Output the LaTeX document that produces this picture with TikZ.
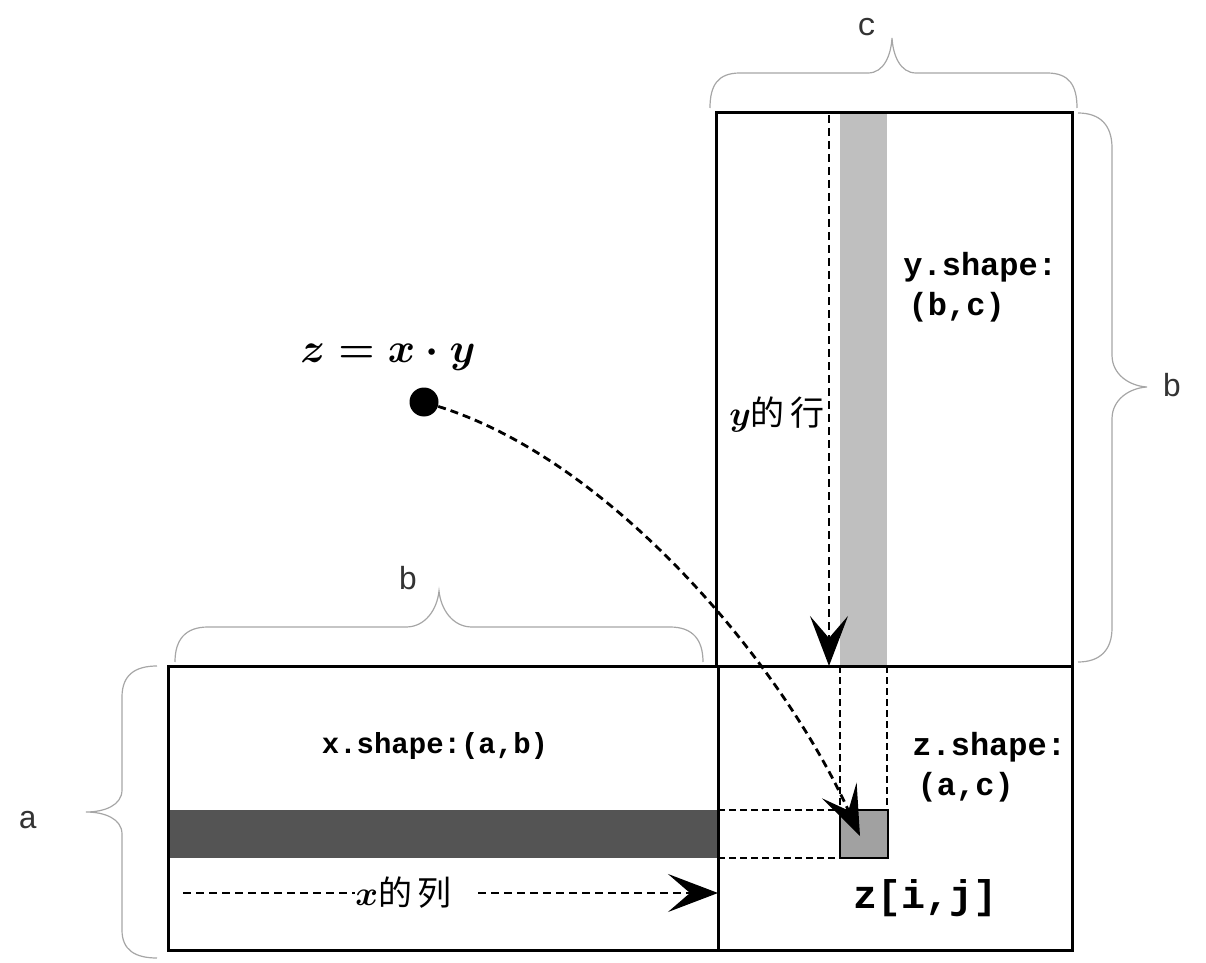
\documentclass[tikz,border=0pt]{standalone}
\usepackage{fontspec}
\newfontfamily\codefont{Liberation Mono}
\newfontfamily\cjk{Noto Sans CJK SC}
\usetikzlibrary{arrows.meta}
\begin{document}
\begin{tikzpicture}[x=0.5pt,y=-0.5pt,
    mat/.style={line width=1.5pt},
    curly/.style={line width=0.6pt,color=black!35},
    guide/.style={line width=1.1pt,dash pattern=on 3.5pt off 2pt},
    flow/.style={line width=1.4pt,dash pattern=on 4pt off 2.5pt,-{Stealth[length=25pt,width=19pt,inset=11pt]}},
    code/.style={font=\codefont\bfseries\fontsize{16}{20}\selectfont,align=left,inner sep=0pt},
    dim/.style={font=\codefont\fontsize{16}{18}\selectfont,text=black!80,inner sep=0pt},
    mix/.style={font=\fontsize{17}{20}\selectfont,inner sep=0pt}]
  \useasboundingbox (0,0) rectangle (1206,963);
  % highlighted row of x and column of y
  \fill[black!67] (168,810) rectangle (718,858);
  \fill[black!25] (840,113) rectangle (887,666);
  % projections into z
  \draw[guide] (718,810) -- (840,810);
  \draw[guide] (718,858) -- (840,858);
  \draw[guide] (840,666) -- (840,810);
  \draw[guide] (887,666) -- (887,810);
  \draw[line width=1.2pt,fill=black!37] (840,810) rectangle (888,858);
  % the three matrices
  \draw[mat] (168,666) rectangle (718,950);
  \draw[mat] (718,666) rectangle (1072,950);
  \draw[mat] (716,113) rectangle (1072,666);
  \node[code,font=\codefont\bfseries\fontsize{14.5}{20}\selectfont] (xshape) at (435,746) {x.shape:(a,b)};
  \node[code,anchor=west] (yshape) at (903,287) {y.shape:\\\,(b,c)};
  \node[code,anchor=west] (zshape) at (912,767) {z.shape:\\\,(a,c)};
  \node[code,font=\codefont\bfseries\fontsize{20}{22}\selectfont] (zij) at (926,898) {z[i,j]};
  % row of y
  \coordinate (ytop) at (829,115);
  \coordinate (ybot) at (829,666);
  \node[mix,anchor=east] (yrow) at (825,415) {{\boldmath$y$}\cjk 的\,行};
  \draw[flow] (ytop) -- (ybot);
  % column of x
  \coordinate (xstart) at (183,893);
  \coordinate (xmid) at (478,893);
  \coordinate (xend) at (718,893);
  \node[mix,anchor=west] (xcol) at (355,893) {{\boldmath$x$}\cjk 的\,列};
  \draw[flow,-] (xstart) -- (xcol.west);
  \draw[flow] (xmid) -- (xend);
  % the product
  \node[font=\boldmath\fontsize{20}{23}\selectfont,inner sep=0pt] (prod) at (388,357) {$z=x\cdot y$};
  \node[circle,fill=black,minimum size=14.5pt,inner sep=0pt] (dot) at (424,402) {};
  \coordinate (zin) at (860,836);
  \draw[flow] (dot) .. controls (610,460) and (780,660) .. (zin);
  % braces
  \draw[curly] (710,108) .. controls (710,85) and (718,73) .. (740,73) -- (868,73)
    .. controls (884,73) and (891,55) .. (892,38) .. controls (893,55) and (900,73) .. (916,73)
    -- (1047,73) .. controls (1069,73) and (1077,85) .. (1077,108);
  \node[dim] (c) at (867,27) {c};
  \draw[curly] (1078,113) .. controls (1100,113) and (1112,125) .. (1112,148) -- (1112,355)
    .. controls (1112,375) and (1130,386) .. (1147,387) .. controls (1130,388) and (1112,399) .. (1112,419)
    -- (1112,628) .. controls (1112,650) and (1100,662) .. (1078,662);
  \node[dim] (by) at (1172,385) {b};
  \draw[curly] (175,662) .. controls (175,640) and (185,627) .. (208,627) -- (406,627)
    .. controls (425,627) and (437,610) .. (439,591) .. controls (441,610) and (453,627) .. (472,627)
    -- (670,627) .. controls (693,627) and (703,640) .. (703,662);
  \node[dim] (bx) at (408,578) {b};
  \draw[curly] (157,666) .. controls (135,666) and (122,675) .. (122,697) -- (122,790)
    .. controls (122,805) and (105,812) .. (86,812) .. controls (105,812) and (122,819) .. (122,834)
    -- (122,930) .. controls (122,950) and (135,958) .. (157,958);
  \node[dim] (a) at (28,820) {a};
\end{tikzpicture}
\end{document}
